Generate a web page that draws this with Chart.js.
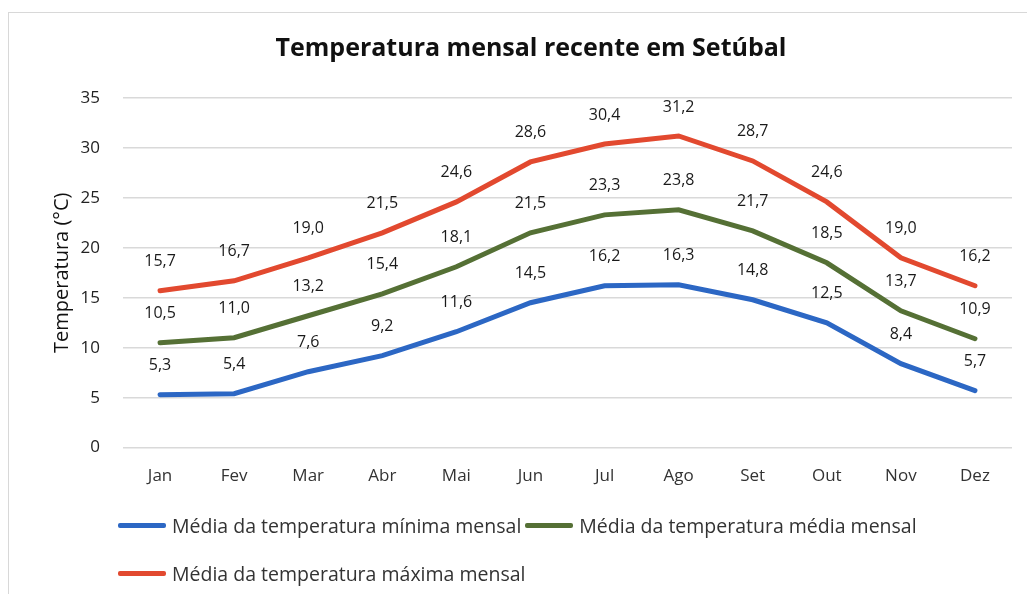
<!DOCTYPE html>
<html>
<head>
<meta charset="utf-8">
<script src="https://cdn.jsdelivr.net/npm/chart.js@4"></script>
<style>
  body { margin: 0; background: #fff; }
  #wrap { position: relative; width: 1027px; height: 594px; }
  #frame { position: absolute; left: 8px; top: 12px; right: -4px; bottom: -4px; border: 1px solid #d8d8d8; }
  #legend { position: absolute; left: 118px; top: 507px; width: 900px; font-family: "Open Sans", sans-serif; font-size: 19.5px; color: #333; }
  .item { display: inline-flex; align-items: center; height: 30px; margin-bottom: 14px; margin-right: 4px; }
  .swatch { display: inline-block; width: 48px; height: 5px; border-radius: 2px; margin-right: 6px; }
</style>
</head>
<body>
<div id="wrap">
  <div id="frame"></div>
  <canvas id="chart" width="1027" height="594"></canvas>
  <div id="legend"></div>
</div>
<script>
// monthly averages
const months = ['Jan', 'Fev', 'Mar', 'Abr', 'Mai', 'Jun', 'Jul', 'Ago', 'Set', 'Out', 'Nov', 'Dez'];
const tempMin = [5.3, 5.4, 7.6, 9.2, 11.6, 14.5, 16.2, 16.3, 14.8, 12.5, 8.4, 5.7];
const tempMed = [10.5, 11.0, 13.2, 15.4, 18.1, 21.5, 23.3, 23.8, 21.7, 18.5, 13.7, 10.9];
const tempMax = [15.7, 16.7, 19.0, 21.5, 24.6, 28.6, 30.4, 31.2, 28.7, 24.6, 19.0, 16.2];

const seriesNames = [
  'Média da temperatura mínima mensal',
  'Média da temperatura média mensal',
  'Média da temperatura máxima mensal'
];
const seriesColors = ['#2c67c4', '#557035', '#e2492f'];

const fmt = v => v.toFixed(1).replace('.', ',');
const FONT = '"Open Sans", sans-serif';

// draws the value above every point
const pointLabels = {
  id: 'pointLabels',
  afterDatasetsDraw(chart) {
    const ctx = chart.ctx;
    ctx.save();
    ctx.font = '16px ' + FONT;
    ctx.fillStyle = '#1a1a1a';
    ctx.textAlign = 'center';
    ctx.textBaseline = 'middle';
    chart.data.datasets.forEach((ds, i) => {
      chart.getDatasetMeta(i).data.forEach((pt, j) => {
        ctx.fillText(fmt(ds.data[j]), pt.x, pt.y - 29);
      });
    });
    ctx.restore();
  }
};

const dataSets = [tempMin, tempMed, tempMax].map((d, i) => ({
  label: seriesNames[i],
  data: d,
  borderColor: seriesColors[i],
  backgroundColor: seriesColors[i],
  borderWidth: 5,
  pointRadius: 0,
  tension: 0,
  borderCapStyle: 'round'
}));

new Chart(document.getElementById('chart'), {
  type: 'line',
  data: { labels: months, datasets: dataSets },
  plugins: [pointLabels],
  options: {
    responsive: false,
    animation: false,
    layout: { padding: { left: 50, right: 15, top: 26, bottom: 98 } },
    plugins: {
      legend: { display: false },
      tooltip: { enabled: false },
      title: {
        display: true,
        text: 'Temperatura mensal recente em Setúbal',
        color: '#111',
        font: { family: FONT, size: 25, weight: 'bold' },
        padding: { top: 8, bottom: 34 }
      }
    },
    scales: {
      x: {
        offset: true,
        grid: { display: false },
        border: { display: false },
        ticks: { color: '#333', font: { family: FONT, size: 17 }, padding: 10 }
      },
      y: {
        min: 0,
        max: 35,
        afterFit(scale) { scale.width = 73; },
        grid: { color: '#d9d9d9', lineWidth: 1.5, drawTicks: false },
        border: { display: false },
        ticks: { stepSize: 5, color: '#222', font: { family: FONT, size: 17 }, padding: 23 },
        title: {
          display: true,
          text: 'Temperatura (°C)',
          color: '#111',
          font: { family: FONT, size: 20 },
          padding: 0
        }
      }
    }
  }
});

// legend in the page, same order as the reference
const legend = document.getElementById('legend');
seriesNames.forEach((name, i) => {
  const item = document.createElement('span');
  item.className = 'item';
  item.innerHTML = '<span class="swatch" style="background:' + seriesColors[i] + '"></span>' + name;
  legend.appendChild(item);
  if (i === 1) legend.appendChild(document.createElement('br'));
});
</script>
</body>
</html>
